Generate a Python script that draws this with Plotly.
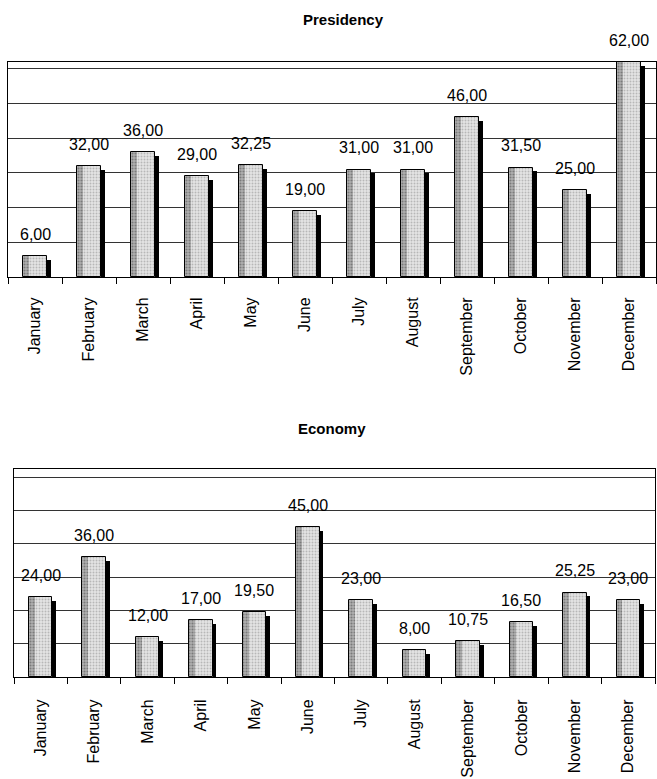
import plotly.graph_objects as go

months = ["January", "February", "March", "April", "May", "June", "July",
          "August", "September", "October", "November", "December"]
presidency = [6, 32, 36, 29, 32.25, 19, 31, 31, 46, 31.5, 25, 62]
economy = [24, 36, 12, 17, 19.5, 45, 23, 8, 10.75, 16.5, 25.25, 23]
titles = ["Presidency", "Economy"]

W, H = 657, 779
FONT = "Liberation Sans, Arial, sans-serif"

# panel geometry in pixels: (x0, x1, ytop, ybottom, ymax)
panels = [
    dict(x0=8, x1=656, yt=62, yb=277, ymax=62.0, title_x=343, title_y=20, standoff=13),
    dict(x0=14, x1=655, yt=469, yb=677, ymax=62.4, title_x=332, title_y=428, standoff=15),
]

fig = go.Figure()
bw = 0.44
annotations = []

for k, (vals, p) in enumerate(zip([presidency, economy], panels)):
    sfx = "" if k == 0 else str(k + 1)
    xa, ya = "x" + sfx, "y" + sfx
    px_per_unit = (p["yb"] - p["yt"]) / p["ymax"]
    drop = 3.5 / px_per_unit
    # shadow
    fig.add_trace(go.Bar(x=months, y=[max(v - drop, 0) for v in vals], width=bw,
                         offset=-bw / 2 + 0.07, xaxis=xa, yaxis=ya,
                         marker=dict(color="black", line=dict(width=0)),
                         showlegend=False, hoverinfo="skip"))
    # main fill
    fig.add_trace(go.Bar(x=months, y=vals, width=bw, offset=-bw / 2,
                         xaxis=xa, yaxis=ya,
                         marker=dict(color="#d8d8d8", line=dict(width=0),
                                     pattern=dict(shape=".", fgcolor="#8a8a8a",
                                                  bgcolor="#e4e4e4", size=3,
                                                  solidity=0.35)),
                         showlegend=False, hoverinfo="skip"))
    # darker left strip
    fig.add_trace(go.Bar(x=months, y=vals, width=0.11, offset=-bw / 2,
                         xaxis=xa, yaxis=ya,
                         marker=dict(color="#9a9a9a", line=dict(width=0),
                                     pattern=dict(shape=".", fgcolor="#444",
                                                  bgcolor="#b0b0b0", size=3,
                                                  solidity=0.4)),
                         showlegend=False, hoverinfo="skip"))
    # outline
    fig.add_trace(go.Bar(x=months, y=vals, width=bw, offset=-bw / 2,
                         xaxis=xa, yaxis=ya,
                         marker=dict(color="rgba(0,0,0,0)",
                                     line=dict(width=1, color="black")),
                         showlegend=False, hoverinfo="skip"))
    for m, v in zip(months, vals):
        annotations.append(dict(x=m, y=v, xref=xa, yref=ya,
                                text=f"{v:.2f}".replace(".", ","),
                                showarrow=False, yshift=22, yanchor="middle",
                                font=dict(family=FONT, size=16, color="black")))
    annotations.append(dict(x=p["title_x"] / W, y=1 - p["title_y"] / H,
                            xref="paper", yref="paper", text="<b>%s</b>" % titles[k],
                            showarrow=False, xanchor="center", yanchor="middle",
                            font=dict(family=FONT, size=15, color="black")))
    xaxis = dict(domain=[p["x0"] / W, p["x1"] / W], anchor=ya,
                 type="category", tickson="boundaries", ticks="outside",
                 ticklen=6, tickcolor="black", tickangle=-90,
                 ticklabelstandoff=p["standoff"],
                 tickfont=dict(family=FONT, size=16, color="black"),
                 showline=True, linecolor="black", linewidth=1, mirror=True,
                 showgrid=False, range=[-0.5, 11.5], fixedrange=True)
    yaxis = dict(domain=[1 - p["yb"] / H, 1 - p["yt"] / H], anchor=xa,
                 range=[0, p["ymax"]], dtick=10, tick0=0,
                 showgrid=True, gridcolor="#333333", gridwidth=1,
                 showticklabels=False, ticks="", zeroline=False,
                 showline=True, linecolor="black", linewidth=1, mirror=True,
                 fixedrange=True)
    fig.layout["xaxis" + sfx] = xaxis
    fig.layout["yaxis" + sfx] = yaxis

fig.update_layout(width=W, height=H, margin=dict(l=0, r=0, t=0, b=0),
                  barmode="overlay", bargap=0,
                  paper_bgcolor="white", plot_bgcolor="white",
                  annotations=annotations, showlegend=False,
                  font=dict(family=FONT, color="black"))

fig.write_html("out.html")
